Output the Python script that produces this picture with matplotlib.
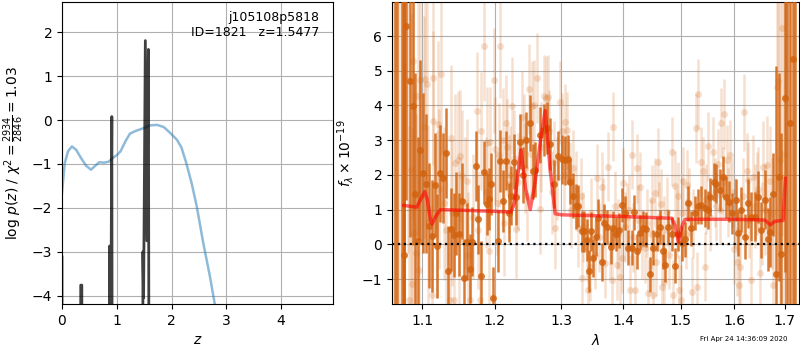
import numpy as np
import matplotlib
matplotlib.use("Agg")
import matplotlib.pyplot as plt
from matplotlib.ticker import NullLocator

# --- left panel: redshift PDF ---
blue_z = [0.00, 0.05, 0.11, 0.18, 0.26, 0.35, 0.44, 0.53, 0.59, 0.68, 0.77, 0.85, 0.92,
          1.01, 1.07, 1.16, 1.24, 1.34, 1.43, 1.52, 1.61, 1.74, 1.86, 1.99, 2.10, 2.18,
          2.27, 2.37, 2.46, 2.58, 2.70, 2.79, 2.85]
blue_logp = [-1.66, -0.98, -0.71, -0.60, -0.68, -0.87, -1.04, -1.13, -1.06, -0.96, -0.97, -0.95, -0.87,
             -0.79, -0.71, -0.48, -0.31, -0.25, -0.21, -0.17, -0.12, -0.11, -0.16, -0.31, -0.45, -0.62,
             -0.98, -1.45, -1.96, -2.80, -3.55, -4.19, -4.60]

pz_z = [0.000, 0.008, 0.330, 0.342, 0.362, 0.374, 0.855, 0.868, 0.880, 0.893, 0.910, 0.928,
        1.470, 1.478, 1.490, 1.522, 1.550, 1.578, 1.605]
pz_logp = [-3.12, -20.0, -20.0, -3.76, -3.76, -20.0, -20.0, -2.87, -4.5, -4.5, 0.08, -20.0,
           -20.0, -3.00, -4.05, 1.81, -2.75, 1.61, -20.0]

# --- right panel: spectrum ---
dark_wave = [1.0652, 1.0668, 1.0740, 1.0760, 1.0765, 1.0770, 1.0795, 1.0838, 1.0882, 1.0912,
             1.0943, 1.0978, 1.1015, 1.1053, 1.1088, 1.1133, 1.1168, 1.1199, 1.1235, 1.1280,
             1.1316, 1.1348, 1.1384, 1.1425, 1.1461, 1.1498, 1.1535, 1.1572, 1.1614, 1.1646,
             1.1683, 1.1730, 1.1758, 1.1800, 1.1847, 1.1885, 1.1918, 1.1952, 1.1980, 1.2043,
             1.2080, 1.2120, 1.2159, 1.2203, 1.2240, 1.2276, 1.2316, 1.2365, 1.2415, 1.2464,
             1.2514, 1.2564, 1.2600, 1.2665, 1.2726, 1.2777, 1.2828, 1.2890, 1.2942, 1.3004,
             1.3061, 1.3103, 1.3140, 1.3182, 1.3234, 1.3271, 1.3324, 1.3367, 1.3404, 1.3436,
             1.3474, 1.3511, 1.3552, 1.3593, 1.3648, 1.3686, 1.3741, 1.3796, 1.3840, 1.3885,
             1.3929, 1.3979, 1.4035, 1.4091, 1.4147, 1.4192, 1.4232, 1.4289, 1.4346, 1.4392,
             1.4461, 1.4520, 1.4578, 1.4636, 1.4683, 1.4730, 1.4783, 1.4842, 1.4908, 1.4962,
             1.5022, 1.5082, 1.5130, 1.5190, 1.5260, 1.5321, 1.5382, 1.5444, 1.5505, 1.5549,
             1.5611, 1.5661, 1.5723, 1.5786, 1.5837, 1.5900, 1.5964, 1.6028, 1.6073, 1.6137,
             1.6202, 1.6267, 1.6332, 1.6397, 1.6463, 1.6529, 1.6595, 1.6661, 1.6708, 1.6762,
             1.6829, 1.6883, 1.6930, 1.7000, 1.7050, 1.7115, 1.7162, 1.7210]
dark_flux = [9.0, 9.0, 9.0, 9.0, 9.0, -0.30, 6.28, 4.70, 3.97, 1.44,
             0.10, 2.72, 2.05, 1.74, 0.53, 0.24, 1.71, -0.05, 2.05, 1.92,
             2.62, -0.76, 0.43, 0.27, 0.89, 0.29, 1.25, -0.96, 0.08, -0.70,
             0.08, 2.26, 0.72, -0.90, 2.07, 1.16, 1.30, 1.74, -1.54, 0.10,
             2.40, 1.25, 2.41, 0.91, 1.40, 2.38, 1.37, 2.96, 2.00, 3.00,
             3.49, 2.10, 2.15, 3.15, 3.30, 3.34, 2.90, 1.74, 2.55, 2.45,
             2.42, 2.45, 1.80, 1.40, 1.10, 1.10, 0.37, 0.37, 0.12, -0.76,
             0.37, -0.40, 0.20, 0.75, -0.50, 0.60, 0.50, -0.07, 0.46, 0.30,
             0.40, 1.13, 0.90, -0.10, -0.10, 0.92, -0.20, 0.33, 0.46, 0.43,
             -0.86, -0.10, 0.30, 0.50, -0.20, -0.60, 0.50, 0.30, -0.62, 0.30,
             0.03, 0.14, 1.18, 0.46, 0.90, 1.09, 1.14, 1.04, 0.99, 1.37,
             1.80, 1.75, 1.57, 1.95, 1.37, 1.23, 0.89, 1.28, 0.32, 0.99,
             0.22, 1.18, 0.80, 0.80, 1.37, 0.41, 1.28, 0.14, 0.36, 1.44,
             -0.86, 1.93, -0.28, 4.21, 9.0, 3.49, 5.34, 9.0]
dark_err = [20, 20, 20, 20, 20, 5.5, 5.0, 4.5, 4.0, 3.5,
            3.0, 2.6, 2.3, 2.0, 1.8, 1.6, 1.5, 1.5, 1.4, 1.3,
            1.3, 1.3, 1.2, 1.2, 1.2, 1.2, 1.1, 1.1, 1.1, 1.0,
            1.0, 1.0, 1.0, 1.0, 0.9, 0.9, 0.9, 0.9, 0.9, 0.9,
            0.9, 0.9, 0.85, 0.85, 0.85, 0.8, 0.8, 0.8, 0.8, 0.8,
            0.8, 0.8, 0.8, 0.8, 0.75, 0.75, 0.75, 0.7, 0.7, 0.7,
            0.7, 0.7, 0.65, 0.65, 0.65, 0.6, 0.6, 0.6, 0.6, 0.6,
            0.55, 0.55, 0.55, 0.55, 0.55, 0.55, 0.5, 0.5, 0.5, 0.5,
            0.5, 0.5, 0.5, 0.5, 0.5, 0.5, 0.5, 0.5, 0.5, 0.5,
            0.5, 0.5, 0.5, 0.5, 0.5, 0.5, 0.5, 0.5, 0.5, 0.5,
            0.5, 0.5, 0.5, 0.5, 0.5, 0.5, 0.55, 0.55, 0.55, 0.55,
            0.55, 0.55, 0.6, 0.6, 0.6, 0.6, 0.6, 0.6, 0.65, 0.65,
            0.65, 0.7, 0.7, 0.7, 0.75, 0.8, 0.85, 0.9, 1.0, 1.2,
            6.0, 3.0, 3.5, 5.0, 20, 20, 20, 20]

# second (faint) spectrum; the last rows are points mostly hidden behind the dark ones
light_wave = [1.0640, 1.0700, 1.0740, 1.0812, 1.0825, 1.0860, 1.0869, 1.0882, 1.0899, 1.0926,
              1.0943, 1.0956, 1.0978, 1.1022, 1.1035, 1.1066, 1.1075, 1.1133, 1.1142, 1.1151,
              1.1200, 1.1213, 1.1257, 1.1293, 1.1380, 1.1388, 1.1425, 1.1448, 1.1484, 1.1517,
              1.1540, 1.1610, 1.1655, 1.1749, 1.1795, 1.1806, 1.1844, 1.1891, 1.1939, 1.1996,
              1.2010, 1.2058, 1.2072, 1.2120, 1.2164, 1.2179, 1.2203, 1.2252, 1.2276, 1.2316,
              1.2400, 1.2424, 1.2474, 1.2509, 1.2549, 1.2584, 1.2624, 1.2665, 1.2726, 1.2766,
              1.2802, 1.2817, 1.2880, 1.2895, 1.2983, 1.3009, 1.3061, 1.3097, 1.3129, 1.3191,
              1.3271, 1.3308, 1.3335, 1.3404, 1.3430, 1.3458, 1.3566, 1.3648, 1.3702, 1.3757,
              1.3812, 1.3829, 1.3895, 1.3951, 1.4007, 1.4063, 1.4117, 1.4147, 1.4203, 1.4232,
              1.4289, 1.4375, 1.4433, 1.4491, 1.4520, 1.4549, 1.4607, 1.4648, 1.4665, 1.4712,
              1.4753, 1.4842, 1.4872, 1.4901, 1.4961, 1.4975, 1.5003, 1.5051, 1.5123, 1.5202,
              1.5275, 1.5294, 1.5324, 1.5367, 1.5416, 1.5444, 1.5509, 1.5602, 1.5652, 1.5696,
              1.5746, 1.5809, 1.5866, 1.5917, 1.5993, 1.6044, 1.6090, 1.6108, 1.6192, 1.6238,
              1.6270, 1.6332, 1.6355, 1.6433, 1.6499, 1.6565, 1.6631, 1.6698, 1.6765, 1.6832,
              1.6866, 1.6900, 1.6948, 1.6988, 1.7025, 1.7080,
              1.3350, 1.3480, 1.3530, 1.3610, 1.3670, 1.3780, 1.3860, 1.3910, 1.3990, 1.4040,
              1.4100, 1.4170, 1.4250, 1.4330, 1.4410, 1.4470, 1.4570, 1.4620, 1.4700, 1.4800,
              1.4930, 1.5030, 1.5100, 1.5160, 1.5230, 1.5470, 1.5540, 1.5630, 1.5720, 1.5780,
              1.5880, 1.5950, 1.6010, 1.6160, 1.6290, 1.6400, 1.6470, 1.6540, 1.6610, 1.6740,
              1.2030, 1.2140, 1.2230, 1.2340, 1.2440, 1.2530, 1.2690, 1.2850, 1.2940, 1.3040,
              1.3160, 1.3230, 1.1230, 1.1320, 1.1400, 1.1500, 1.1580, 1.1620, 1.1700, 1.1770,
              1.1870, 1.1920]
light_flux = [9.0, 9.0, 9.0, 4.74, -1.60, 2.14, -1.13, 5.27, 0.32, -0.26,
              4.26, -0.74, 4.74, 3.37, 4.77, 4.62, 0.65, -1.46, 3.54, 4.79,
              0.85, 3.47, 4.91, 1.18, -1.60, 3.06, -1.60, 2.34, 2.43, 2.55,
              1.97, 1.81, -1.60, 3.85, -1.60, 3.25, 5.72, 2.93, 2.94, 4.72,
              2.74, 2.58, 5.72, 3.01, 3.49, 2.80, 1.74, 3.99, 2.48, 0.43,
              3.68, 3.03, 1.39, 4.47, 3.99, 4.02, 4.79, 1.01, 4.26, 4.21,
              4.24, 3.25, 2.36, 0.48, 4.09, 3.25, 3.51, 3.28, 1.86, 2.19,
              0.46, 1.38, -0.98, -0.07, -1.32, -0.64, 1.90, 1.66, -0.55, 2.24,
              -1.03, 3.39, -0.60, -0.93, 1.78, 0.78, -1.32, 2.58, -1.32, 2.19,
              1.66, -0.12, -1.41, 1.28, -1.45, 1.49, 2.36, 1.16, -1.22, -1.08,
              0.94, 2.67, -1.46, 1.68, 1.38, -1.32, -1.60, 1.81, 1.71, -1.37,
              3.35, -1.22, 4.33, 2.38, 2.10, -0.64, 2.82, 2.67, 1.09, 2.32,
              3.49, 3.75, 2.43, 2.58, -0.14, -0.50, -1.17, -0.64, 3.80, 2.10,
              1.86, -1.03, 1.95, 1.47, -0.84, 2.24, 2.29, 1.81, -1.17, 4.53,
              4.69, 2.43, 6.23, 2.61, 9.0, 9.0,
              0.50, 0.90, -0.30, 0.20, 0.90, 0.00, 1.10, 0.30, -0.40, 0.50,
              1.00, 0.20, 0.70, 0.00, 0.60, 0.30, -0.50, 0.80, 0.40, -0.30,
              0.60, 0.90, 0.30, 1.20, 0.60, 1.30, 0.80, 1.50, 1.00, 1.80,
              1.20, 1.50, 0.90, 1.40, 0.70, 1.10, 1.60, 0.60, 1.00, 0.90,
              1.20, 0.60, 2.00, 1.80, 2.20, 2.60, 2.80, 1.50, 1.90, 2.00,
              1.00, 1.60, 1.60, 0.40, 0.90, 0.10, 1.20, -0.30, 0.80, 0.40,
              1.50, -0.20]
light_err = [20, 20, 20, 5.0, 5.0, 4.5, 4.5, 4.5, 4.0, 4.0,
             4.0, 3.5, 3.5, 3.2, 3.0, 3.0, 2.8, 2.6, 2.6, 2.5,
             2.4, 2.4, 2.3, 2.2, 2.1, 2.1, 2.0, 2.0, 2.0, 1.9,
             1.9, 1.8, 1.8, 1.7, 1.7, 1.7, 1.6, 1.6, 1.6, 1.5,
             1.5, 1.5, 1.5, 1.5, 1.4, 1.4, 1.4, 1.4, 1.4, 1.4,
             1.3, 1.3, 1.3, 1.3, 1.3, 1.3, 1.3, 1.3, 1.2, 1.2,
             1.2, 1.2, 1.2, 1.2, 1.2, 1.1, 1.1, 1.1, 1.1, 1.1,
             1.1, 1.1, 1.0, 1.0, 1.0, 1.0, 1.0, 1.0, 1.0, 1.0,
             1.0, 1.0, 1.0, 1.0, 1.0, 1.0, 1.0, 1.0, 1.0, 1.0,
             1.0, 1.0, 1.0, 1.0, 1.0, 1.0, 1.0, 1.0, 1.0, 1.0,
             1.0, 1.0, 1.0, 1.0, 1.0, 1.0, 1.0, 1.0, 1.0, 1.0,
             1.0, 1.0, 1.0, 1.0, 1.0, 1.0, 1.0, 1.0, 1.0, 1.0,
             1.0, 1.0, 1.0, 1.0, 1.0, 1.0, 1.1, 1.1, 1.1, 1.1,
             1.1, 1.1, 1.2, 1.2, 1.2, 1.3, 1.4, 1.6, 2.0, 3.0,
             4.0, 5.0, 6.0, 8.0, 20, 20,
             1.0, 1.0, 1.0, 1.0, 1.0, 1.0, 1.0, 1.0, 1.0, 1.0,
             1.0, 1.0, 1.0, 1.0, 1.0, 1.0, 1.0, 1.0, 1.0, 1.0,
             1.0, 1.0, 1.0, 1.0, 1.0, 1.0, 1.0, 1.0, 1.0, 1.0,
             1.0, 1.0, 1.0, 1.1, 1.1, 1.2, 1.2, 1.2, 1.3, 1.6,
             1.5, 1.5, 1.4, 1.4, 1.3, 1.3, 1.3, 1.2, 1.2, 1.1,
             1.1, 1.1, 2.3, 2.2, 2.1, 2.0, 1.9, 1.8, 1.8, 1.7,
             1.6, 1.6]

model_wave = [1.0760, 1.0930, 1.1035, 1.1068, 1.1112, 1.1133, 1.1180, 1.1244, 1.2000, 1.2240,
              1.2290, 1.2385, 1.2455, 1.2524, 1.2600, 1.2680, 1.2752, 1.2825, 1.2905, 1.3000,
              1.4000, 1.4842, 1.4900, 1.4962, 1.5020, 1.5082, 1.6000, 1.6595, 1.6708, 1.6796,
              1.6966, 1.7010]
model_flux = [1.12, 1.07, 1.52, 1.30, 0.70, 0.59, 0.80, 1.00, 0.95, 0.93,
              1.20, 2.72, 1.60, 1.00, 1.80, 3.00, 3.85, 2.20, 0.88, 0.85,
              0.80, 0.75, 0.55, 0.05, 0.50, 0.72, 0.72, 0.70, 0.56, 0.66,
              0.69, 1.90]

wave_ticks = [1.1, 1.2, 1.3, 1.4, 1.5, 1.6, 1.7]
grism_color = "#d2630f"

fig = plt.figure(figsize=(8, 3.5), dpi=100)

ax = fig.add_axes([0.0775, 0.1314, 0.3388, 0.8629])
ax.plot(blue_z, blue_logp, color="tab:blue", alpha=0.5, lw=1.8)
ax.plot(pz_z, pz_logp, color="k", alpha=0.75, lw=2)
ax.set_xlim(0, 4.95)
ax.set_ylim(-4.19, 2.69)
ax.grid()
ax.set_xlabel("$z$")
ax.set_ylabel(r"$\log\,p(z)$ / $\chi^2=\frac{2934}{2846}=1.03$")
ax.text(0.95, 0.97, "j105108p5818\nID=1821   z=1.5477", transform=ax.transAxes,
        ha="right", va="top", fontsize=9)

ax = fig.add_axes([0.49, 0.1314, 0.5088, 0.8629])
ax.errorbar(light_wave, light_flux, yerr=light_err, color=grism_color, alpha=0.2,
            marker="o", ms=5, mew=0, linestyle="none", elinewidth=1.8, zorder=2)
ax.errorbar(dark_wave, dark_flux, yerr=dark_err, color=grism_color, alpha=0.85,
            marker="o", ms=5, mew=0, linestyle="none", elinewidth=1.8, zorder=3)
ax.plot(model_wave, model_flux, color="r", alpha=0.6, lw=2.5, zorder=5)
ax.axhline(0, color="k", linestyle=":", lw=1.6, zorder=6)
ax.set_xscale("log")
ax.set_xlim(1.061, 1.7293)
ax.set_ylim(-1.72, 6.98)
ax.set_xticks(wave_ticks)
ax.set_xticklabels([f"{t:.1f}" for t in wave_ticks])
ax.xaxis.set_minor_locator(NullLocator())
ax.grid()
ax.set_axisbelow(True)
ax.set_xlabel(r"$\lambda$")
ax.set_ylabel(r"$f_\lambda\times10^{-19}$")

fig.text(0.985, 0.031, "Fri Apr 24 14:36:09 2020", ha="right", va="center", fontsize=5)

fig.savefig("out.png", dpi=100)
